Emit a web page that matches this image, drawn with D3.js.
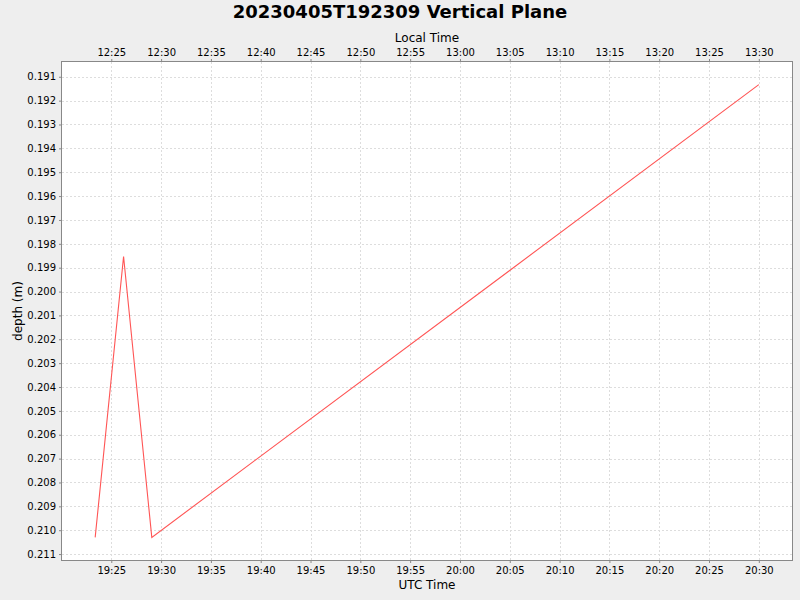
<!DOCTYPE html>
<html>
<head>
<meta charset="utf-8">
<script src="https://cdn.jsdelivr.net/npm/d3@7"></script>
<style>
  body { margin: 0; background: #eeeeee; }
  text { font-family: "DejaVu Sans", sans-serif; fill: #000; }
</style>
</head>
<body>
<div class="graphic"></div>
<script>
// data (UTC times)
let timesUTC = ["2023-04-05T19:23:23Z", "2023-04-05T19:26:14Z", "2023-04-05T19:29:04Z", "2023-04-05T20:30:00Z"];
let depths = [0.2103, 0.19853, 0.2103, 0.19133];
let depthTicks = [0.191, 0.192, 0.193, 0.194, 0.195, 0.196, 0.197, 0.198, 0.199, 0.200,
                  0.201, 0.202, 0.203, 0.204, 0.205, 0.206, 0.207, 0.208, 0.209, 0.210, 0.211];
let LOCAL_OFFSET_H = -7;
let TITLE = "20230405T192309 Vertical Plane";

let W = 800, H = 600;
let margin = {left: 62, right: 8, top: 62, bottom: 40};

let svg = d3.select(".graphic")
            .append("svg")
            .attr("width", W)
            .attr("height", H);

svg.append("rect").attr("width", W).attr("height", H).attr("fill", "#eeeeee");

let data = timesUTC.map((t, i) => ({t: new Date(t), d: depths[i]}));

// 5% padding on each side, like the original auto range
function padded(ext) {
    let pad = (ext[1] - ext[0]) * 0.05;
    return [ext[0] - pad, ext[1] + pad];
}
let tExt = d3.extent(data, d => +d.t);
let tDom = padded(tExt);
let x = d3.scaleUtc()
          .domain([new Date(tDom[0]), new Date(tDom[1])])
          .range([margin.left, W - margin.right]);
let y = d3.scaleLinear()
          .domain(padded(d3.extent(depths)))
          .range([margin.top, H - margin.bottom]);

let xLocal = d3.scaleUtc()
          .domain(x.domain().map(d => new Date(+d + LOCAL_OFFSET_H * 3600000)))
          .range(x.range());

let pw = W - margin.left - margin.right;
let ph = H - margin.top - margin.bottom;

svg.append("rect")
   .attr("x", margin.left).attr("y", margin.top)
   .attr("width", pw).attr("height", ph)
   .attr("fill", "#ffffff");

let timeTicks = x.ticks(d3.utcMinute.every(5));
let localTicks = xLocal.ticks(d3.utcMinute.every(5));
let fmt = d3.utcFormat("%H:%M");

// grid
let grid = svg.append("g")
   .attr("stroke", "#dddddd")
   .attr("stroke-width", 1)
   .attr("stroke-dasharray", "2,2");
grid.selectAll(".gx").data(timeTicks).join("line")
   .attr("x1", d => Math.round(x(d)) + 0.5).attr("x2", d => Math.round(x(d)) + 0.5)
   .attr("y1", margin.top).attr("y2", H - margin.bottom);
grid.selectAll(".gy").data(depthTicks).join("line")
   .attr("x1", margin.left).attr("x2", W - margin.right)
   .attr("y1", d => Math.round(y(d)) + 0.5).attr("y2", d => Math.round(y(d)) + 0.5);

// line
svg.append("path")
   .datum(data)
   .attr("fill", "none")
   .attr("stroke", "#ff5555")
   .attr("stroke-width", 1.1)
   .attr("d", d3.line().x(d => x(d.t)).y(d => y(d.d)));

// plot border
svg.append("rect")
   .attr("x", margin.left - 0.5).attr("y", margin.top - 0.5)
   .attr("width", pw + 1).attr("height", ph + 1)
   .attr("fill", "none")
   .attr("stroke", "#888888");

function styleAxis(g) {
    g.select(".domain").remove();
    g.selectAll(".tick line").attr("stroke", "#888888");
    g.selectAll(".tick text").attr("font-size", 10).attr("font-family", "DejaVu Sans").attr("fill", "#000");
}

svg.append("g")
   .attr("transform", `translate(0,${H - margin.bottom})`)
   .call(d3.axisBottom(x).tickValues(timeTicks).tickFormat(fmt).tickSize(3).tickPadding(4))
   .call(styleAxis);

svg.append("g")
   .attr("transform", `translate(0,${margin.top})`)
   .call(d3.axisTop(xLocal).tickValues(localTicks).tickFormat(fmt).tickSize(3).tickPadding(3))
   .call(styleAxis);

svg.append("g")
   .attr("transform", `translate(${margin.left},0)`)
   .call(d3.axisLeft(y).tickValues(depthTicks).tickFormat(d3.format(".3f")).tickSize(3).tickPadding(3))
   .call(styleAxis);

// titles
svg.append("text")
   .attr("x", W / 2).attr("y", 18)
   .attr("text-anchor", "middle")
   .attr("font-size", 18).attr("font-weight", "bold")
   .text(TITLE);

svg.append("text")
   .attr("x", margin.left + pw / 2).attr("y", 41.5)
   .attr("text-anchor", "middle")
   .attr("font-size", 12)
   .text("Local Time");

svg.append("text")
   .attr("x", margin.left + pw / 2).attr("y", 589)
   .attr("text-anchor", "middle")
   .attr("font-size", 12)
   .text("UTC Time");

svg.append("text")
   .attr("transform", `translate(22,${margin.top + ph / 2}) rotate(-90)`)
   .attr("text-anchor", "middle")
   .attr("font-size", 12)
   .text("depth (m)");
</script>
</body>
</html>
